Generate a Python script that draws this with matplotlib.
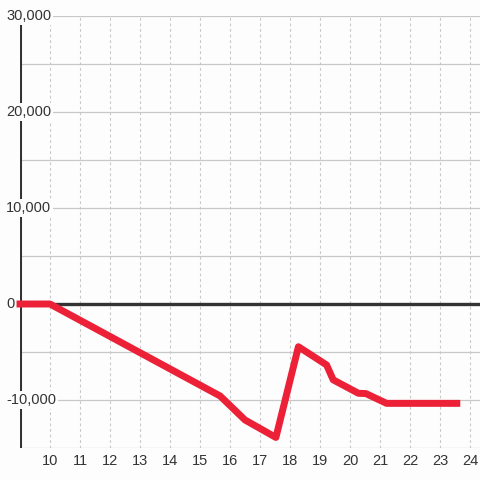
import matplotlib.pyplot as plt
import matplotlib.transforms as mtrans

plt.rcParams['font.family'] = ['Liberation Sans', 'DejaVu Sans']

# data
hours = [9, 10, 15.67, 16.5, 17.53, 18.28, 19.22, 19.44, 20.28, 20.53, 21.22, 23.56]
values = [0, 0, -9580, -12080, -13900, -4450, -6350, -7900, -9300, -9330, -10350, -10350]

y_ticks = [-10000, 0, 10000, 20000, 30000]
y_grid = [-15000, -10000, -5000, 0, 5000, 10000, 15000, 20000, 25000, 30000]
x_ticks = list(range(10, 25))

bg = '#fcfdfc'
txt = '#333333'

fig = plt.figure(figsize=(4.8, 4.8), dpi=100, facecolor=bg)
ax = fig.add_axes([20/480, 1 - 448/480, 460/480, 432/480])
ax.set_facecolor(bg)
ax.set_xlim(9, 9 + 460/30)
ax.set_ylim(-15000, 30000)

for x in x_ticks:
    ax.axvline(x, color='#c8c8c8', lw=0.8, ls=(0, (2.5, 2.5)), zorder=1)
for y in y_grid:
    ax.axhline(y, color='#c8c8c8', lw=0.9, zorder=1)
ax.axhline(0, color='#333333', lw=2.4, zorder=2)
ax.axvline(9, color='#333333', lw=2.2, zorder=2, ymax=(448 - 24) / 432)

ax.plot(hours, values, color='#ec2037', lw=5, zorder=4, clip_on=False)

for s in ax.spines.values():
    s.set_visible(False)
ax.set_xticks([])
ax.set_yticks([])

ytr = mtrans.blended_transform_factory(fig.transFigure, ax.transData)
for y in y_ticks:
    ax.text(6/480, y, f"{y:,}", transform=ytr, ha='left', va='center',
            fontsize=10.5, color=txt, zorder=5, clip_on=False,
            bbox=dict(boxstyle='square,pad=0.12', fc=bg, ec='none'))

xtr = mtrans.blended_transform_factory(ax.transData, fig.transFigure)
for x in x_ticks:
    ax.text(x, 1 - 461/480, str(x), transform=xtr, ha='center', va='center',
            fontsize=10.5, color=txt, clip_on=False)

fig.savefig('out.png', dpi=100, facecolor=bg)
